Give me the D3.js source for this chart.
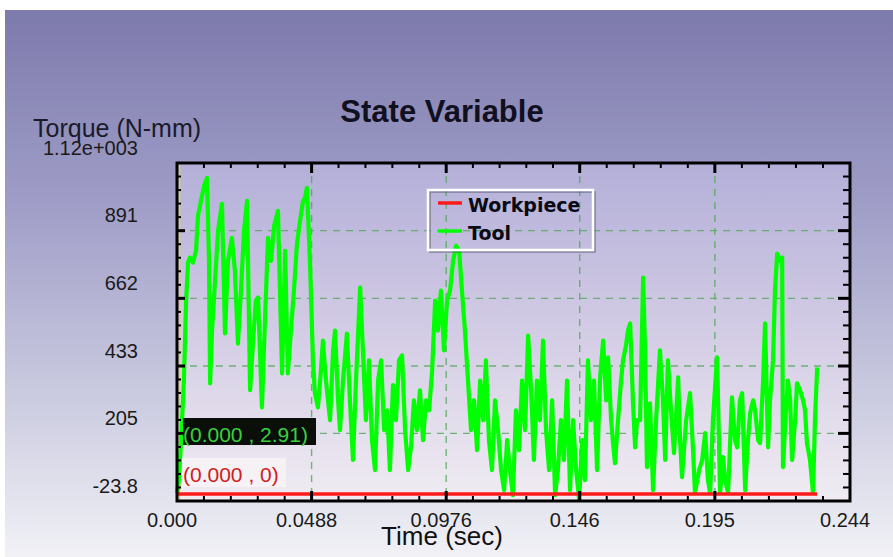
<!DOCTYPE html>
<html>
<head>
<meta charset="utf-8">
<script src="https://cdn.jsdelivr.net/npm/d3@7"></script>
<style>
  body { margin: 0; background: #fff; }
  svg { display: block; }
</style>
</head>
<body>
<div id="chart"></div>
<script>
// ----------------------
// State Variable: torque vs time (tool / workpiece)
// ----------------------

// Tool torque samples [time (sec), torque (N-mm)]
const toolData = [
    [0.0000,2.91],[0.0007,47],[0.0015,182],[0.0025,384],[0.0033,654],[0.0040,783],[0.0047,800],
    [0.0058,783],[0.0069,823],[0.0076,941],[0.0087,992],[0.0098,1042],[0.0109,1069],[0.0116,789],
    [0.0120,374],[0.0127,553],[0.0138,722],[0.0149,891],[0.0163,982],[0.0174,543],[0.0185,789],
    [0.0199,867],[0.0210,756],[0.0221,509],[0.0232,688],[0.0243,891],[0.0254,992],[0.0265,351],
    [0.0276,519],[0.0286,654],[0.0294,665],[0.0308,293],[0.0319,587],[0.0330,867],[0.0341,789],
    [0.0352,907],[0.0366,958],[0.0381,408],[0.0392,823],[0.0402,408],[0.0413,553],[0.0424,688],
    [0.0435,847],[0.0446,924],[0.0457,992],[0.0464,1002],[0.0471,1036],[0.0482,789],[0.0493,452],
    [0.0500,341],[0.0511,293],[0.0522,418],[0.0529,519],[0.0540,384],[0.0555,250],[0.0566,486],
    [0.0573,553],[0.0584,317],[0.0591,216],[0.0602,384],[0.0616,543],[0.0627,317],[0.0638,115],
    [0.0649,384],[0.0664,698],[0.0674,486],[0.0685,250],[0.0696,452],[0.0707,182],[0.0718,81],
    [0.0729,384],[0.0740,452],[0.0751,216],[0.0762,283],[0.0772,81],[0.0783,368],[0.0794,250],
    [0.0805,452],[0.0816,469],[0.0827,216],[0.0838,81],[0.0849,165],[0.0859,317],[0.0870,216],
    [0.0881,351],[0.0892,182],[0.0903,317],[0.0914,283],[0.0925,418],[0.0936,654],[0.0946,553],
    [0.0957,688],[0.0968,486],[0.0979,654],[0.0990,688],[0.1001,789],[0.1012,840],[0.1023,823],
    [0.1033,688],[0.1044,553],[0.1055,384],[0.1066,216],[0.1077,317],[0.1088,148],[0.1099,384],
    [0.1110,250],[0.1120,452],[0.1131,182],[0.1142,81],[0.1153,317],[0.1164,216],[0.1175,81],
    [0.1186,13],[0.1197,182],[0.1207,81],[0.1218,-4],[0.1229,283],[0.1240,148],[0.1251,384],
    [0.1262,216],[0.1273,536],[0.1284,351],[0.1294,115],[0.1305,384],[0.1316,250],[0.1327,519],
    [0.1338,216],[0.1349,81],[0.1360,317],[0.1371,-4],[0.1381,81],[0.1392,250],[0.1403,115],
    [0.1414,384],[0.1425,13],[0.1436,250],[0.1447,81],[0.1458,-20],[0.1469,182],[0.1479,47],
    [0.1490,452],[0.1501,250],[0.1512,384],[0.1523,81],[0.1534,395],[0.1545,519],[0.1556,317],
    [0.1563,462],[0.1574,250],[0.1581,172],[0.1588,104],[0.1599,250],[0.1610,384],[0.1617,452],
    [0.1628,503],[0.1635,553],[0.1643,577],[0.1653,317],[0.1661,158],[0.1668,250],[0.1679,250],
    [0.1690,732],[0.1697,486],[0.1704,91],[0.1715,307],[0.1726,13],[0.1737,250],[0.1751,486],
    [0.1762,317],[0.1770,115],[0.1780,452],[0.1791,283],[0.1802,138],[0.1817,395],[0.1824,182],
    [0.1831,57],[0.1846,250],[0.1860,341],[0.1871,148],[0.1878,3],[0.1893,81],[0.1904,115],
    [0.1915,206],[0.1925,47],[0.1933,3],[0.1943,250],[0.1958,462],[0.1965,182],[0.1969,3],
    [0.1980,125],[0.1987,47],[0.1998,3],[0.2012,327],[0.2023,182],[0.2031,158],[0.2041,317],
    [0.2049,341],[0.2060,13],[0.2070,182],[0.2078,273],[0.2089,317],[0.2096,283],[0.2107,182],
    [0.2114,172],[0.2125,384],[0.2132,577],[0.2143,158],[0.2150,317],[0.2161,452],[0.2168,688],
    [0.2176,813],[0.2186,789],[0.2194,800],[0.2197,91],[0.2208,283],[0.2215,384],[0.2223,317],
    [0.2230,115],[0.2241,250],[0.2248,374],[0.2259,351],[0.2270,317],[0.2277,283],[0.2284,172],
    [0.2295,115],[0.2306,3],[0.2313,250],[0.2321,428]
];

// Workpiece torque stays at zero
const workpieceData = [[0.0000, 0], [0.2321, 0]];

const seriesNames = ["Workpiece", "Tool"];
const seriesColors = ["#ff1a1a", "#00ff00"];

const xTicks = [0, 0.0488, 0.0976, 0.146, 0.195, 0.244];
const xTickLabels = ["0.000", "0.0488", "0.0976", "0.146", "0.195", "0.244"];
const yTicks = [-23.8, 205, 433, 662, 891, 1120];
const yTickLabels = ["-23.8", "205", "433", "662", "891", "1.12e+003"];

const pointLabels = ["(0.000 , 2.91)", "(0.000 , 0)"];

const width = 893;
const height = 557;
const plot = { left: 177, right: 850, top: 163, bottom: 501 };
const font = "'Liberation Sans', Arial, sans-serif";

const svg = d3.select("#chart")
    .append("svg")
    .attr("width", width)
    .attr("height", height);

const defs = svg.append("defs");

const outerGrad = defs.append("linearGradient")
    .attr("id", "outerGrad")
    .attr("x1", 0).attr("y1", 0).attr("x2", 0).attr("y2", 1);
[["0%", "#7d7aac"], ["35%", "#9f9dc7"], ["70%", "#cacae0"], ["100%", "#f1f1f6"]]
    .forEach(s => outerGrad.append("stop").attr("offset", s[0]).attr("stop-color", s[1]));

const innerGrad = defs.append("linearGradient")
    .attr("id", "innerGrad")
    .attr("x1", 0).attr("y1", 0).attr("x2", 0).attr("y2", 1);
[["0%", "#b3afd8"], ["50%", "#d3cce5"], ["100%", "#f0ecf2"]]
    .forEach(s => innerGrad.append("stop").attr("offset", s[0]).attr("stop-color", s[1]));

// Background
svg.append("rect")
    .attr("x", 5).attr("y", 10)
    .attr("width", width - 5).attr("height", height - 10)
    .attr("fill", "url(#outerGrad)");

svg.append("rect")
    .attr("x", plot.left).attr("y", plot.top)
    .attr("width", plot.right - plot.left).attr("height", plot.bottom - plot.top)
    .attr("fill", "url(#innerGrad)");

// Scales
const x = d3.scaleLinear().domain([0, 0.244]).range([plot.left, plot.right]);
const y = d3.scaleLinear().domain([-23.8, 1120]).range([plot.bottom, plot.top]);

// Minor tick values: 5 subdivisions between majors
function minorTicks(majors) {
    const out = [];
    for (let i = 0; i < majors.length - 1; i++) {
        const step = (majors[i + 1] - majors[i]) / 5;
        for (let j = 1; j < 5; j++) out.push(majors[i] + j * step);
    }
    return out;
}

// Grid
const grid = svg.append("g")
    .attr("stroke", "#52a85a")
    .attr("stroke-width", 1.4)
    .attr("stroke-dasharray", "7,6")
    .attr("opacity", 0.8);

grid.selectAll("line.v")
    .data(xTicks.slice(1, -1))
    .enter()
    .append("line")
    .attr("class", "v")
    .attr("x1", d => x(d)).attr("x2", d => x(d))
    .attr("y1", plot.top).attr("y2", plot.bottom);

grid.selectAll("line.h")
    .data(yTicks.slice(1, -1))
    .enter()
    .append("line")
    .attr("class", "h")
    .attr("x1", plot.left).attr("x2", plot.right)
    .attr("y1", d => y(d)).attr("y2", d => y(d));

// Yellow marker line on the left edge
svg.append("line")
    .attr("x1", plot.left + 2.5).attr("x2", plot.left + 2.5)
    .attr("y1", plot.top).attr("y2", plot.bottom)
    .attr("stroke", "#e6d24c")
    .attr("stroke-width", 1.5);

// Series lines
const line = d3.line()
    .x(d => x(d[0]))
    .y(d => y(d[1]));

svg.append("path")
    .datum(toolData)
    .attr("d", line)
    .attr("fill", "none")
    .attr("stroke", seriesColors[1])
    .attr("stroke-width", 4.2)
    .attr("stroke-linejoin", "round");

svg.append("path")
    .datum(workpieceData)
    .attr("d", line)
    .attr("fill", "none")
    .attr("stroke", seriesColors[0])
    .attr("stroke-width", 3.5);

// Axes frame and ticks (all ticks point inward)
const axes = svg.append("g").attr("stroke", "#000");

axes.append("rect")
    .attr("x", plot.left).attr("y", plot.top)
    .attr("width", plot.right - plot.left).attr("height", plot.bottom - plot.top)
    .attr("fill", "none")
    .attr("stroke-width", 3);

function drawTicks(values, len, w) {
    values.forEach(v => {
        const px = x(v);
        axes.append("line").attr("x1", px).attr("x2", px)
            .attr("y1", plot.bottom).attr("y2", plot.bottom - len).attr("stroke-width", w);
        axes.append("line").attr("x1", px).attr("x2", px)
            .attr("y1", plot.top).attr("y2", plot.top + len).attr("stroke-width", w);
    });
}
function drawYTicks(values, lenL, lenR, w) {
    values.forEach(v => {
        const py = y(v);
        axes.append("line").attr("x1", plot.left).attr("x2", plot.left + lenL)
            .attr("y1", py).attr("y2", py).attr("stroke-width", w);
        axes.append("line").attr("x1", plot.right).attr("x2", plot.right - lenR)
            .attr("y1", py).attr("y2", py).attr("stroke-width", w);
    });
}
drawTicks(minorTicks(xTicks), 5, 2);
drawTicks(xTicks.slice(1, -1), 10, 3);
drawYTicks(minorTicks(yTicks), 4, 7, 2);
drawYTicks(yTicks.slice(1, -1), 8, 12, 3);

// Tick labels
svg.append("g")
    .selectAll("text")
    .data(yTicks)
    .enter()
    .append("text")
    .attr("x", 138)
    .attr("y", d => y(d) - 8.5)
    .attr("text-anchor", "end")
    .attr("font-family", font)
    .attr("font-size", "20px")
    .attr("fill", "#1a1a1a")
    .text((d, i) => yTickLabels[i]);

svg.append("g")
    .selectAll("text")
    .data(xTicks)
    .enter()
    .append("text")
    .attr("x", d => x(d) - 5)
    .attr("y", 527)
    .attr("text-anchor", "middle")
    .attr("font-family", font)
    .attr("font-size", "20px")
    .attr("fill", "#1a1a1a")
    .text((d, i) => xTickLabels[i]);

// Titles
svg.append("text")
    .attr("x", 442).attr("y", 122)
    .attr("text-anchor", "middle")
    .attr("font-family", font)
    .attr("font-weight", "bold")
    .attr("font-size", "31px")
    .attr("fill", "#101020")
    .text("State Variable");

svg.append("text")
    .attr("x", 33).attr("y", 137)
    .attr("font-family", font)
    .attr("font-size", "25px")
    .attr("fill", "#1a1a2a")
    .text("Torque (N-mm)");

svg.append("text")
    .attr("x", 442).attr("y", 545)
    .attr("text-anchor", "middle")
    .attr("font-family", font)
    .attr("font-size", "26px")
    .attr("fill", "#111")
    .text("Time (sec)");

// Point value labels at t = 0
const lbl = svg.append("g");
lbl.append("rect")
    .attr("x", 183).attr("y", 418).attr("width", 133).attr("height", 27)
    .attr("fill", "#0a0f0a");
lbl.append("text")
    .attr("x", 183).attr("y", 442)
    .attr("font-family", font).attr("font-size", "21px")
    .attr("fill", "#3ccf3c")
    .text(pointLabels[0]);

lbl.append("rect")
    .attr("x", 182).attr("y", 458).attr("width", 104).attr("height", 29)
    .attr("fill", "#f7f3f6").attr("opacity", 0.85);
lbl.append("text")
    .attr("x", 183).attr("y", 482)
    .attr("font-family", font).attr("font-size", "21px")
    .attr("fill", "#d02020")
    .text(pointLabels[1]);

// Legend
const legend = svg.append("g").attr("transform", "translate(428,190)");

legend.append("rect")
    .attr("x", 2).attr("y", 2).attr("width", 165).attr("height", 60)
    .attr("fill", "none").attr("stroke", "#55556a").attr("stroke-width", 1.5).attr("opacity", 0.6);
legend.append("rect")
    .attr("width", 165).attr("height", 60)
    .attr("fill", "none").attr("stroke", "#ffffff").attr("stroke-width", 2.5);

seriesNames.forEach((name, i) => {
    const g = legend.append("g").attr("transform", `translate(0, ${13 + i * 28})`);
    g.append("line")
        .attr("x1", 10).attr("x2", 34)
        .attr("y1", 0).attr("y2", 0)
        .attr("stroke", seriesColors[i])
        .attr("stroke-width", 3.5);
    g.append("text")
        .attr("x", 40).attr("y", 9)
        .attr("font-family", "'DejaVu Sans', sans-serif")
        .attr("font-weight", "bold")
        .attr("font-size", "19px")
        .attr("fill", "#0a0a14")
        .text(name);
});
</script>
</body>
</html>
